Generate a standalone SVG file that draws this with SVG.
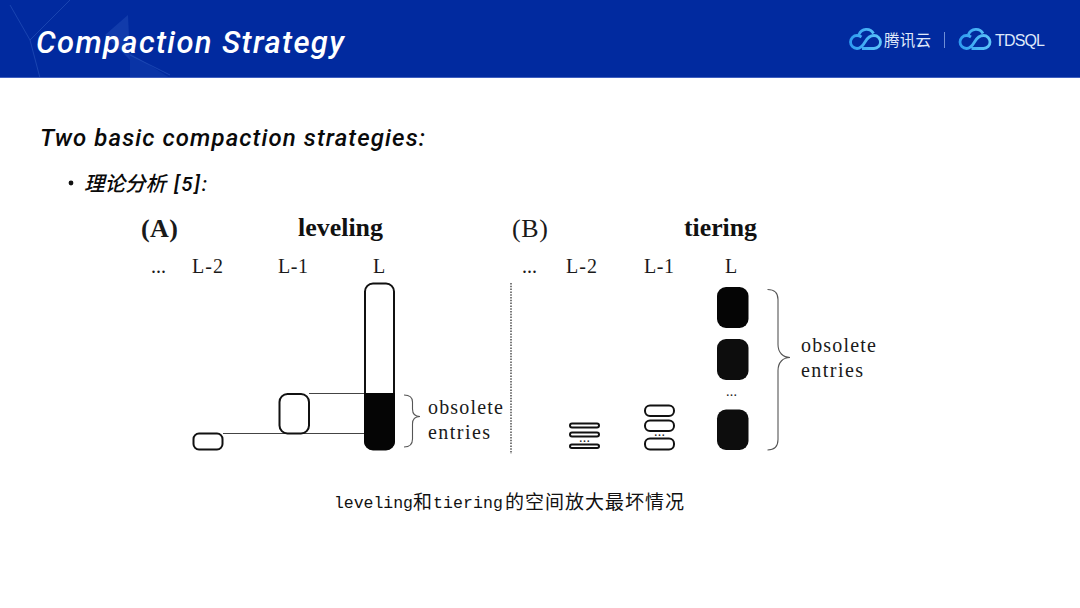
<svg xmlns="http://www.w3.org/2000/svg" width="1080" height="608" viewBox="0 0 1080 608">
<defs>
<linearGradient id="cg" x1="0" y1="0" x2="1" y2="0"><stop offset="0" stop-color="#2f9bf0"/><stop offset="1" stop-color="#5cc4f8"/></linearGradient>
<path id="cloud" d="M862 48.500h12a6.500 6.500 0 0 0 0-13c-5 0-7 3-9 6.500s-4 6.500-8 6.500a6.500 6.500 0 0 1 0-13c2 0 3 .5 4.500 1.500M859 34.500a8 8 0 0 1 14.500-1" fill="none" stroke="url(#cg)" stroke-width="2.800"/>
</defs>
<style>
.tt{font-family:"Roboto","Noto Sans CJK SC",sans-serif;font-style:italic;font-weight:500}
.s{font-family:"Liberation Serif","DejaVu Serif",serif;fill:#1a1a1a;font-size:20px}
.h{font-family:"Liberation Serif","DejaVu Serif",serif;fill:#111;font-size:26px;font-weight:bold}
.lv{fill:#fff;stroke:#111;stroke-width:2}
.blk{fill:#050505}
.ln{fill:none;stroke:#444;stroke-width:1.2}
.br{fill:none;stroke:#555;stroke-width:1.1}
.cap{font-family:"Liberation Mono",monospace;font-size:16.500px;fill:#111}
.capc{font-family:"Noto Sans CJK SC",sans-serif;font-size:19px;letter-spacing:1px;fill:#111}
</style>
<rect width="1080" height="608" fill="#fff"/>
<g id="header">
<rect width="1080" height="78" fill="#012a9f"/>
<path d="M105 35L128 15L130 60Z" fill="#1d48b4" opacity=".6"/>
<path d="M130 53L170 78L130 78Z" fill="#1d48b4" opacity=".35"/>
<path d="M10 5L30 40L70 0M30 40L40 78M130 55L170 75" fill="none" stroke="#3560c4" stroke-width=".8" opacity=".6"/>
<rect y="77" width="1080" height="1" fill="#3f5fbf"/>
<text class="tt" x="36" y="53" font-size="31" fill="#fff" textLength="308" lengthAdjust="spacing">Compaction Strategy</text>
</g>
<g id="logo">
<use href="#cloud"/>
<text x="884" y="46" font-family="'Noto Sans CJK SC',sans-serif" font-size="15.500" fill="#dfe8fa" textLength="47">腾讯云</text>
<rect x="944" y="32" width="1" height="16" fill="#6f8fd6"/>
<use href="#cloud" x="109.500"/>
<text x="995" y="46" font-family="'Liberation Sans',sans-serif" font-size="16" fill="#dfe8fa" textLength="50">TDSQL</text>
</g>
<g id="headings">
<text class="tt" x="40" y="146" font-size="24" fill="#0a0a0a" textLength="385" lengthAdjust="spacing">Two basic compaction strategies:</text>
<circle cx="71" cy="183" r="2.400" fill="#111"/>
<text class="tt" x="84" y="191" font-size="20.500" fill="#0a0a0a">理论分析</text>
<text class="tt" x="174" y="191" font-size="20.500" fill="#0a0a0a" textLength="33" lengthAdjust="spacing">[5]:</text>
</g>
<g id="connectors">
<path class="ln" d="M309 393.500H365M223 433.500H365"/>
<path d="M511 283V454" fill="none" stroke="#333" stroke-width="1.300" stroke-dasharray="1.500 1.300"/>
<path class="br" d="M404 395c6 0 8.500 2 8.500 7v7c0 5 3 7.500 7.500 7.500c-4.500 0-7.500 2.500-7.500 7.500v15c0 5-2.500 8-8.500 8"/>
<path class="br" d="M767.500 289.500c7 0 10.500 3 10.500 10v45c0 8 5 13 12 13c-7 0-12 5-12 13v69c0 7-3.500 10.500-10.500 10.500"/>
</g>
<g id="panel-a">
<text class="s" x="141" y="237" style="font-size:26px;font-weight:bold" textLength="37">(A)</text>
<text class="h" x="298" y="236" textLength="85" lengthAdjust="spacingAndGlyphs">leveling</text>
<text class="s" x="151" y="273">...</text>
<text class="s" x="192" y="273" textLength="31">L-2</text>
<text class="s" x="278" y="273" textLength="30">L-1</text>
<text class="s" x="373" y="273">L</text>
<text class="s" x="428" y="414" textLength="75">obsolete</text>
<text class="s" x="428" y="439" textLength="62">entries</text>
</g>
<g id="a-l2"><rect class="lv" x="193.500" y="433.500" width="29" height="16" rx="5.500"/></g>
<g id="a-l1"><rect class="lv" x="279.500" y="394" width="29.500" height="39.500" rx="8"/></g>
<g id="a-l">
<rect class="lv" x="365" y="283.500" width="29" height="166" rx="8"/>
<path class="blk" d="M364 393H395V441a9 9 0 0 1-9 9H373a9 9 0 0 1-9-9Z"/>
</g>
<g id="panel-b">
<text class="s" x="512" y="237" style="font-size:26px" textLength="36">(B)</text>
<text class="h" x="684" y="236" textLength="73" lengthAdjust="spacingAndGlyphs">tiering</text>
<text class="s" x="522" y="273">...</text>
<text class="s" x="566" y="273" textLength="31">L-2</text>
<text class="s" x="644" y="273" textLength="30">L-1</text>
<text class="s" x="725" y="273">L</text>
<text class="s" x="801" y="352" textLength="75">obsolete</text>
<text class="s" x="801" y="377" textLength="62">entries</text>
</g>
<g id="b-l2">
<rect class="lv" x="570" y="423.500" width="29" height="4" rx="2"/>
<rect class="lv" x="570" y="432.500" width="29" height="4" rx="2"/>
<rect class="lv" x="570" y="444.500" width="29" height="3.500" rx="1.800"/>
<text class="s" x="579" y="442" style="font-size:14px" textLength="11">...</text>
</g>
<g id="b-l1">
<rect class="lv" x="645" y="405.500" width="29" height="10.500" rx="5"/>
<rect class="lv" x="645" y="420.500" width="29" height="10.500" rx="5"/>
<rect class="lv" x="645" y="438.500" width="29" height="11" rx="5"/>
<text class="s" x="654" y="436" style="font-size:14px" textLength="11">...</text>
</g>
<g id="b-l">
<rect class="blk" x="717" y="287" width="31.500" height="41" rx="9"/>
<rect x="717" y="339" width="31.500" height="41" rx="9" fill="#0d0d0d"/>
<text class="s" x="726" y="396" style="font-size:14px" textLength="11">...</text>
<rect x="717" y="409.500" width="31.500" height="40.500" rx="9" fill="#0d0d0d"/>
</g>
<g id="caption">
<text class="cap" x="334" y="508" textLength="79">leveling</text>
<text class="capc" x="413" y="509">和</text>
<text class="cap" x="433" y="508" textLength="70">tiering</text>
<text class="capc" x="505" y="509">的空间放大最坏情况</text>
</g>
</svg>
